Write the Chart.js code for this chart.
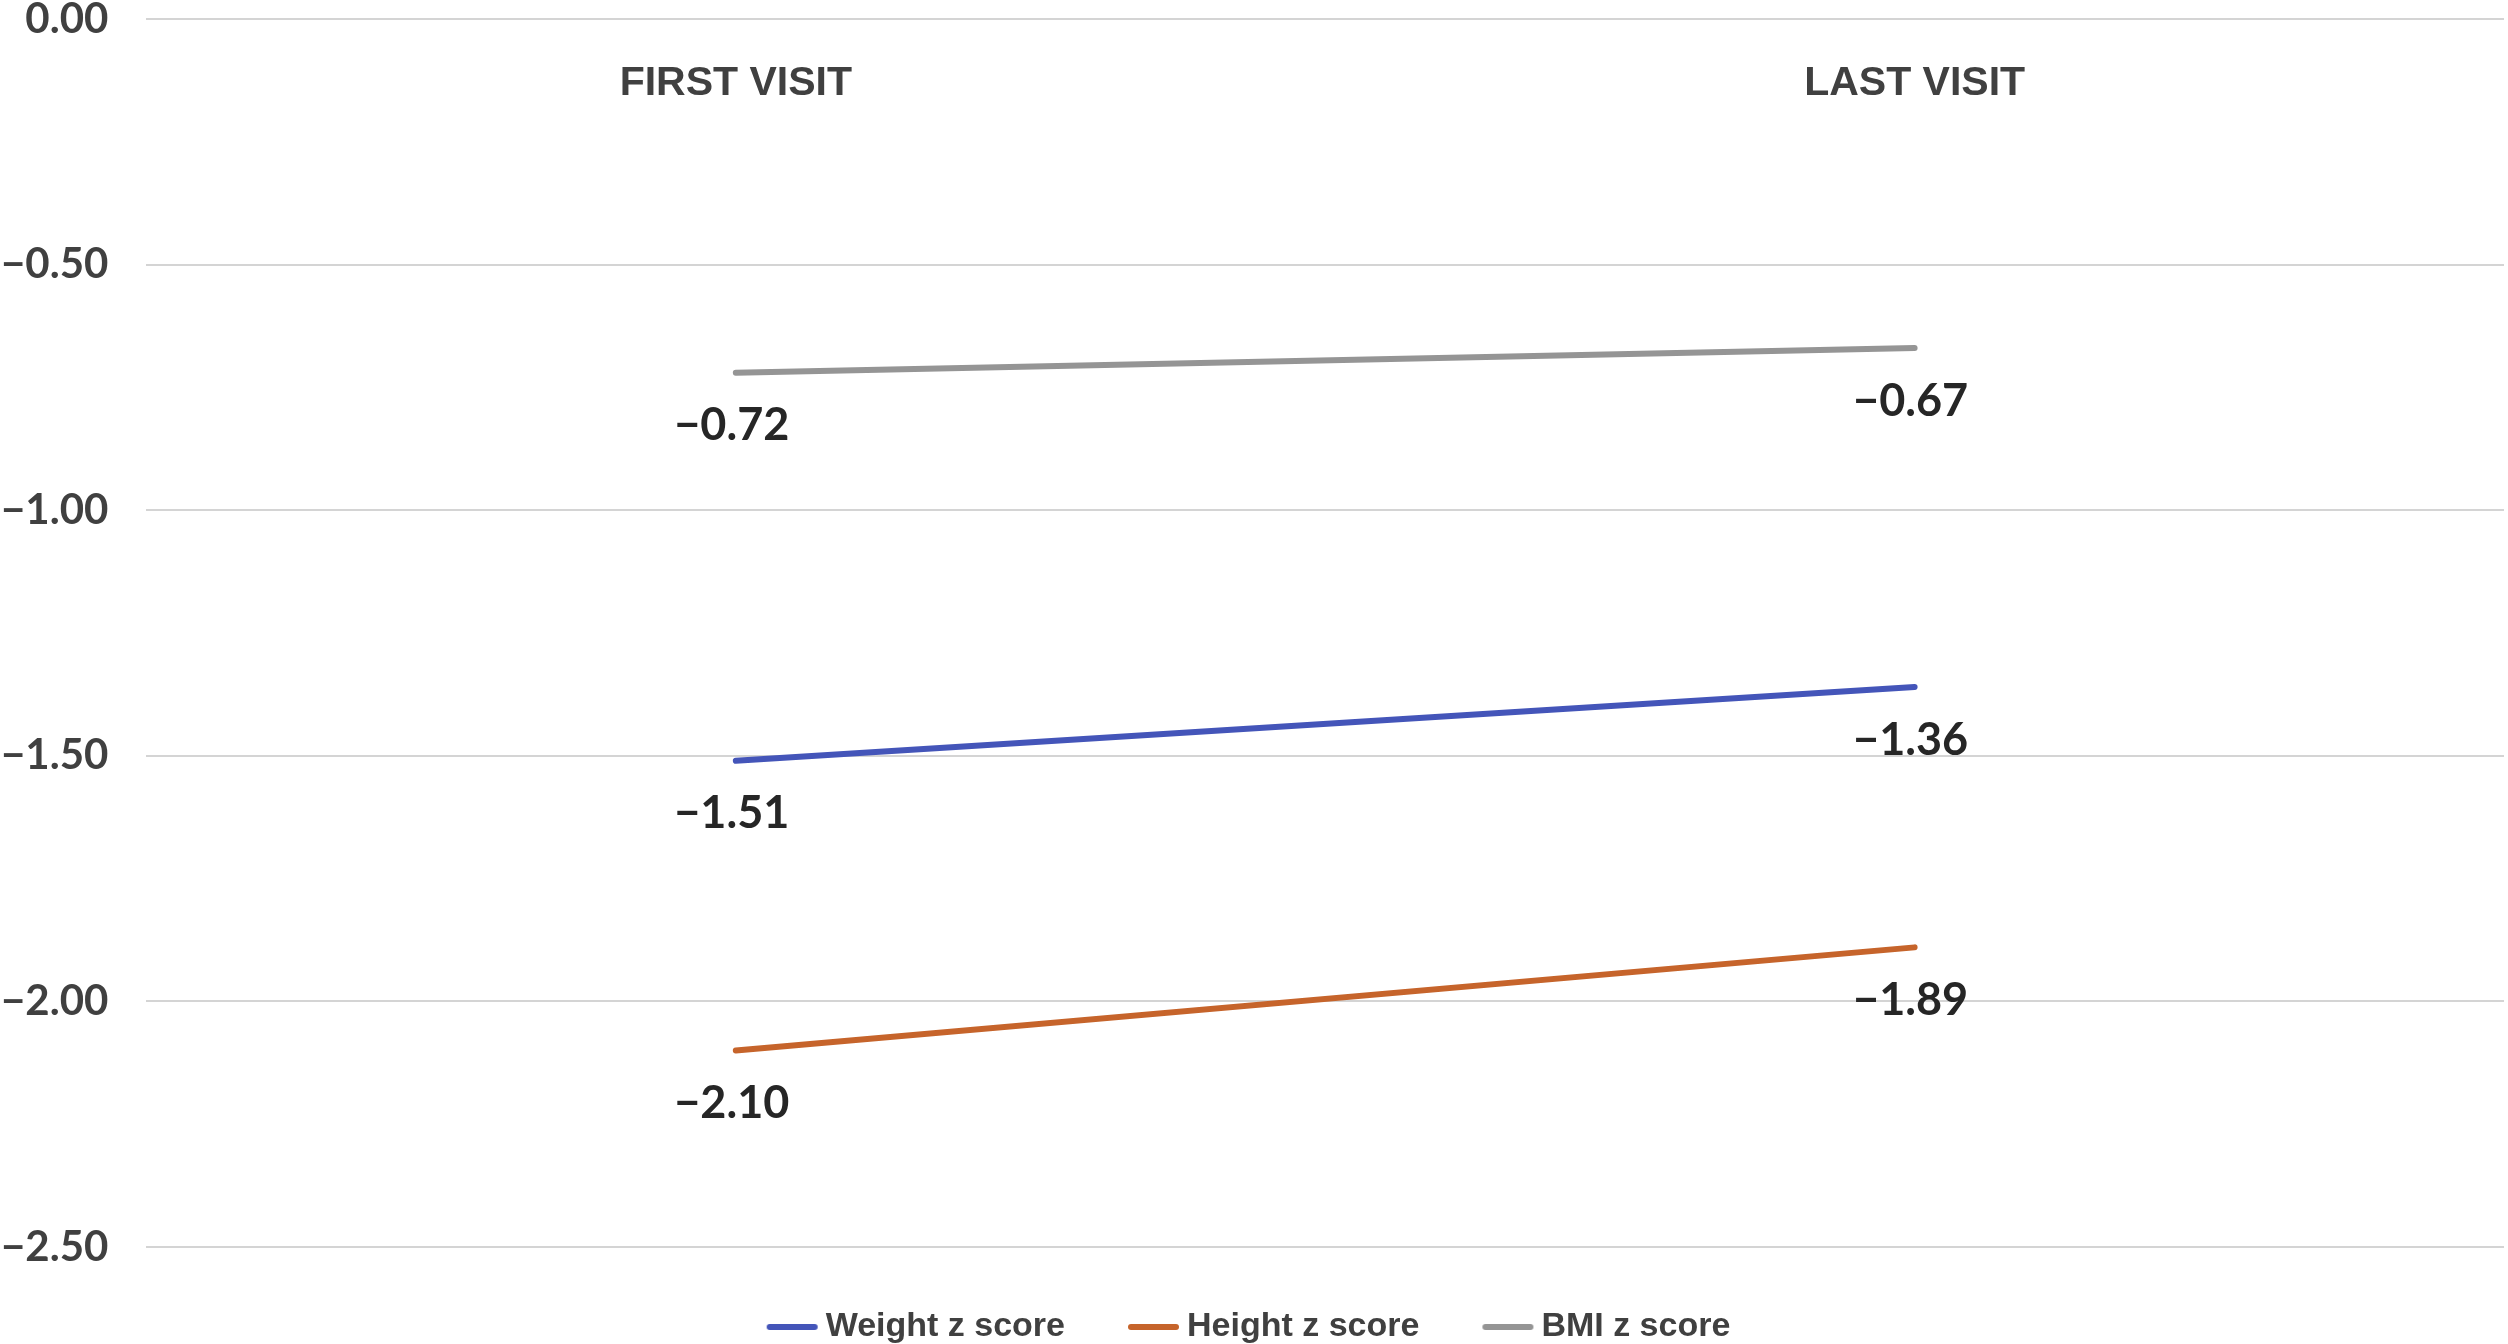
<!DOCTYPE html>
<html>
<head>
<meta charset="utf-8">
<script src="https://cdn.jsdelivr.net/npm/chart.js@4.4.1/dist/chart.umd.min.js"></script>
<style>
  html, body { margin: 0; padding: 0; background: #ffffff; }
  #wrap { position: relative; width: 2508px; height: 1344px; }
</style>
</head>
<body>
<div id="wrap"><canvas id="c" width="2508" height="1344"></canvas></div>
<script>
const categories = ['FIRST VISIT', 'LAST VISIT'];
const weightZ = [-1.51, -1.36];
const heightZ = [-2.10, -1.89];
const bmiZ = [-0.72, -0.67];
const seriesNames = ['Weight z score', 'Height z score', 'BMI z score'];
const seriesColors = ['#4455b9', '#c6642b', '#959595'];
const yTicks = [0, -0.5, -1, -1.5, -2, -2.5];

function fmt(v) {
  const s = Math.abs(v).toFixed(2);
  return v < -0.0001 ? '\u2212' + s : s;
}

// legend swatch: a short thick line, drawn slightly right of the box centre
function legendLine(color) {
  const cv = document.createElement('canvas');
  cv.width = 62; cv.height = 10;
  const g = cv.getContext('2d');
  g.strokeStyle = color;
  g.lineWidth = 6;
  g.lineCap = 'round';
  g.beginPath();
  g.moveTo(13, 5);
  g.lineTo(58, 5);
  g.stroke();
  return cv;
}

const dataLabelPlugin = {
  id: 'dataLabelPlugin',
  afterLayout(chart) {
    // centre the legend under the full picture width rather than the padded box
    if (chart.legend) { chart.legend.left += 15; chart.legend.right += 15; }
  },
  afterDatasetsDraw(chart) {
    const ctx = chart.ctx;
    ctx.save();
    ctx.font = 'bold 45px Lato, "Open Sans", sans-serif';
    ctx.fillStyle = '#262626';
    ctx.textAlign = 'center';
    ctx.textBaseline = 'middle';
    chart.data.datasets.forEach((ds, i) => {
      const meta = chart.getDatasetMeta(i);
      meta.data.forEach((pt, j) => {
        ctx.fillText(fmt(ds.data[j]), pt.x - 4, pt.y + 53);
      });
    });
    ctx.restore();
  }
};

new Chart(document.getElementById('c'), {
  type: 'line',
  data: {
    labels: categories,
    datasets: [
      { label: seriesNames[0], data: weightZ, borderColor: seriesColors[0], backgroundColor: seriesColors[0], borderWidth: 6, pointStyle: legendLine(seriesColors[0]) },
      { label: seriesNames[1], data: heightZ, borderColor: seriesColors[1], backgroundColor: seriesColors[1], borderWidth: 6, pointStyle: legendLine(seriesColors[1]) },
      { label: seriesNames[2], data: bmiZ, borderColor: seriesColors[2], backgroundColor: seriesColors[2], borderWidth: 6, pointStyle: legendLine(seriesColors[2]) }
    ]
  },
  options: {
    responsive: false,
    animation: false,
    devicePixelRatio: 1,
    layout: { padding: { left: -37, right: 4, top: 19, bottom: -10 } },
    elements: {
      line: { borderWidth: 6, borderCapStyle: 'round', tension: 0 },
      point: { radius: 0, hoverRadius: 0 }
    },
    plugins: {
      legend: {
        position: 'bottom',
        labels: {
          usePointStyle: true,
          pointStyleWidth: 42,
          boxHeight: 10,
          padding: 63,
          color: '#404040',
          font: { family: '"Liberation Sans Narrow", "Liberation Sans", Arial, sans-serif', weight: 'bold', size: 34 }
        }
      },
      tooltip: { enabled: false }
    },
    scales: {
      x: {
        type: 'category',
        offset: true,
        position: { y: 0 },
        grid: { display: false, drawTicks: false },
        border: { display: false },
        ticks: {
          padding: 40,
          color: '#404040',
          font: { family: '"Liberation Sans Narrow", "Liberation Sans", Arial, sans-serif', weight: 'bold', size: 41 }
        }
      },
      y: {
        min: -2.5,
        max: 0,
        afterBuildTicks(scale) { scale.ticks = yTicks.map(v => ({ value: v })); },
        afterFit(scale) { scale.paddingTop = 0; scale.paddingBottom = 0; },
        grid: { color: '#d4d4d4', lineWidth: 2, drawTicks: false },
        border: { display: false },
        ticks: {
          padding: 38,
          color: '#404040',
          font: { family: 'Lato, "Open Sans", sans-serif', weight: 'bold', size: 42 },
          callback: (v) => fmt(v)
        }
      }
    }
  },
  plugins: [dataLabelPlugin]
});
</script>
</body>
</html>
